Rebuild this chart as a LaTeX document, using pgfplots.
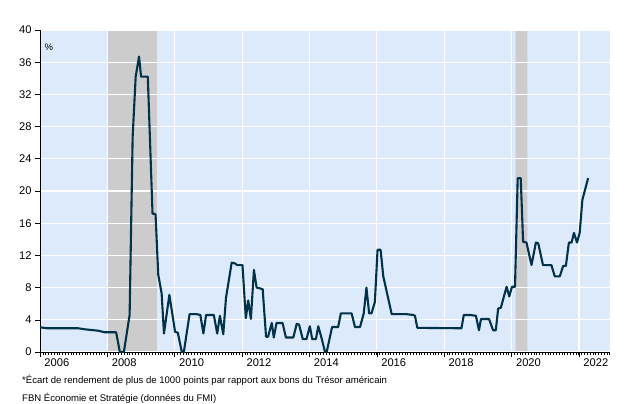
\documentclass[border=0pt]{standalone}
\usepackage{fontspec}
\setmainfont{Liberation Sans}
\usepackage{pgfplots}
\pgfplotsset{compat=1.18}
\definecolor{bgblue}{RGB}{221,234,252}
\definecolor{recgray}{RGB}{204,204,204}
\definecolor{navy}{RGB}{0,50,75}
\pgfplotsset{layers/mylayers/.define layer set={axis background,bands,axis grid,axis ticks,axis lines,axis tick labels,pre main,main,axis descriptions,axis foreground}{/pgfplots/layers/standard}}
\begin{document}
\begin{tikzpicture}
\begin{axis}[
 set layers=mylayers,
 at={(0,0)}, anchor=south west,
 scale only axis, width=570bp, height=322bp,
 xmin=2006, xmax=2022.92, ymin=0, ymax=40,
 axis background/.style={fill=bgblue},
 axis x line*=bottom, axis y line*=left,
 axis line style={black, line width=0.8bp},
 tick align=outside,
 xtick={2006,2008,...,2022}, xticklabels={},
 minor xtick={2006,2006.0833333,...,2022.92},
 extra x ticks={2006.5,2008.5,2010.5,2012.5,2014.5,2016.5,2018.5,2020.5,2022.5},
 extra x tick labels={2006,2008,2010,2012,2014,2016,2018,2020,2022},
 extra x tick style={grid=none, major tick length=0pt},
 xticklabel style={yshift=-3.5bp},
 ytick={0,4,...,40},
 xmajorgrids=true, ymajorgrids=true,
 major grid style={white, line width=1.2bp},
 major tick length=5bp, minor tick length=2.5bp,
 tick style={black, line width=0.6bp},
 ticklabel style={font=\fontsize{11.2}{13}\selectfont},
 /pgf/number format/assume math mode=true,
]
\addplot[on layer=bands, fill=recgray, draw=none] coordinates {(2008.0,0) (2008.0,40) (2009.47,40) (2009.47,0)} \closedcycle;
\addplot[on layer=bands, fill=recgray, draw=none] coordinates {(2020.12,0) (2020.12,40) (2020.47,40) (2020.47,0)} \closedcycle;
\addplot[navy, line width=2.1bp, line join=round] coordinates {
(2006.00,3.07) (2006.21,2.95) (2007.13,2.95) (2007.33,2.82) (2007.72,2.65) (2007.92,2.45)
(2008.26,2.45) (2008.37,0) (2008.49,0) (2008.66,4.6) (2008.75,26.7) (2008.84,34.2)
(2008.94,36.7) (2009.00,34.2) (2009.20,34.2) (2009.34,17.2) (2009.43,17.1) (2009.51,9.6)
(2009.61,7.3) (2009.68,2.3) (2009.84,7.1) (2010.01,2.5) (2010.09,2.4) (2010.21,0)
(2010.27,0) (2010.44,4.7) (2010.65,4.7) (2010.76,4.6) (2010.85,2.3) (2010.93,4.6)
(2011.16,4.6) (2011.26,2.3) (2011.34,4.5) (2011.44,2.2) (2011.52,6.7) (2011.69,11.1)
(2011.79,11.0) (2011.85,10.8) (2012.01,10.8) (2012.11,4.2) (2012.18,6.4) (2012.26,4.1)
(2012.35,10.2) (2012.43,8.0) (2012.53,7.9) (2012.61,7.8) (2012.71,1.9) (2012.77,1.9)
(2012.88,3.6) (2012.94,1.8) (2013.02,3.6) (2013.20,3.6) (2013.30,1.8) (2013.52,1.8)
(2013.62,3.5) (2013.69,3.4) (2013.80,1.6) (2013.91,1.6) (2014.01,3.2) (2014.08,1.6)
(2014.19,1.6) (2014.26,3.2) (2014.36,1.7) (2014.46,0) (2014.51,0) (2014.67,3.1)
(2014.85,3.1) (2014.93,4.8) (2015.25,4.8) (2015.35,3.1) (2015.50,3.1) (2015.61,4.8)
(2015.69,8.0) (2015.77,4.8) (2015.84,4.8) (2015.94,6.2) (2016.02,12.7) (2016.11,12.7)
(2016.19,9.4) (2016.44,4.7) (2016.88,4.7) (2017.08,4.6) (2017.13,4.5) (2017.20,3.0)
(2018.46,2.95) (2018.51,2.95) (2018.58,4.6) (2018.76,4.6) (2018.94,4.5) (2019.03,2.7)
(2019.09,4.1) (2019.33,4.1) (2019.45,2.7) (2019.53,2.7) (2019.60,5.4) (2019.68,5.5)
(2019.85,8.1) (2019.93,6.9) (2020.01,8.1) (2020.10,8.1) (2020.18,21.6) (2020.27,21.6)
(2020.34,13.7) (2020.44,13.6) (2020.59,10.8) (2020.72,13.6) (2020.79,13.5) (2020.93,10.8)
(2021.18,10.8) (2021.28,9.4) (2021.43,9.4) (2021.53,10.7) (2021.61,10.7) (2021.70,13.6)
(2021.78,13.6) (2021.85,14.8) (2021.94,13.6) (2022.02,14.8) (2022.10,18.9) (2022.27,21.6)
};
\node[font=\fontsize{9.5}{10}\selectfont] at (axis cs:2006.26,37.8) {\%};
\end{axis}
\node[anchor=west, font=\fontsize{9.6}{11}\selectfont, inner sep=0pt] at (-18bp,-28bp) {*Écart de rendement de plus de 1000 points par rapport aux bons du Trésor américain};
\node[anchor=west, font=\fontsize{9.6}{11}\selectfont, inner sep=0pt] at (-18bp,-46bp) {FBN Économie et Stratégie (données du FMI)};
\path (-40bp,-50bp) rectangle (590bp,352bp);
\end{tikzpicture}
\end{document}
